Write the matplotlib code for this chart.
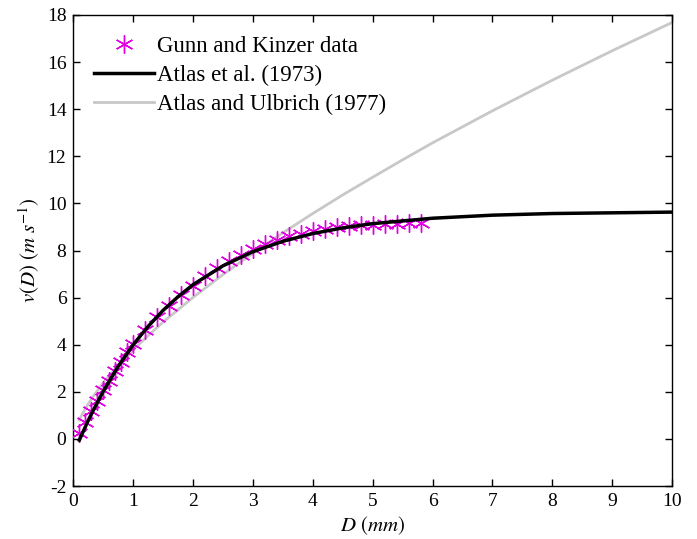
import matplotlib
matplotlib.use("Agg")
import matplotlib.pyplot as plt

# Gunn and Kinzer data
gk_D = [0.1, 0.2, 0.3, 0.4, 0.5, 0.6, 0.7, 0.8, 0.9, 1.0, 1.2, 1.4, 1.6, 1.8, 2.0,
        2.2, 2.4, 2.6, 2.8, 3.0, 3.2, 3.4, 3.6, 3.8, 4.0, 4.2, 4.4, 4.6, 4.8, 5.0,
        5.2, 5.4, 5.6, 5.8]
gk_v = [0.27, 0.72, 1.17, 1.62, 2.06, 2.47, 2.87, 3.27, 3.67, 4.03, 4.64, 5.17, 5.65,
        6.09, 6.49, 6.90, 7.27, 7.57, 7.82, 8.06, 8.26, 8.44, 8.60, 8.72, 8.83, 8.92,
        8.98, 9.03, 9.07, 9.09, 9.12, 9.14, 9.16, 9.17]

# Atlas et al. (1973) curve readings
a73_D = [0.1, 0.2, 0.25, 0.35, 0.5, 0.75, 1.0, 1.25, 1.5, 1.75, 2.0, 2.5, 3.0, 3.5,
         4.0, 4.5, 5.0, 6.0, 7.0, 8.0, 9.0, 10.0]
a73_v = [-0.05, 0.51, 0.79, 1.30, 2.02, 3.08, 4.00, 4.78, 5.46, 6.04, 6.55, 7.35,
         7.95, 8.39, 8.72, 8.96, 9.14, 9.37, 9.50, 9.57, 9.60, 9.63]

# Atlas and Ulbrich (1977) curve readings
au_D = [0.1, 0.15, 0.25, 0.35, 0.5, 0.75, 1.0, 1.25, 1.5, 2.0, 2.5, 3.0, 3.5, 4.0,
        4.5, 5.0, 5.5, 6.0, 7.0, 8.0, 9.0, 10.0]
au_v = [0.81, 1.06, 1.49, 1.87, 2.38, 3.12, 3.78, 4.39, 4.96, 6.01, 6.98, 7.89, 8.75,
        9.57, 10.36, 11.11, 11.85, 12.57, 13.93, 15.23, 16.48, 17.68]

labels = ["Gunn and Kinzer data", "Atlas et al. (1973)", "Atlas and Ulbrich (1977)"]

plt.rcParams['font.family'] = ['Liberation Serif', 'DejaVu Serif']
plt.rcParams['mathtext.fontset'] = 'stix'
plt.rcParams['axes.unicode_minus'] = False

fig = plt.figure(figsize=(6.97, 5.39), dpi=100)
ax = fig.add_axes([0.1052, 0.0983, 0.8589, 0.8739])

ax.plot(gk_D, gk_v, linestyle='none', marker=(6, 2, 0), markersize=13,
        markeredgewidth=1.0, color='#e000e0', label=labels[0], zorder=3)
ax.plot(a73_D, a73_v, color='black', linewidth=2.5, label=labels[1], zorder=4)
ax.plot(au_D, au_v, color='#c8c8c8', linewidth=2.0, label=labels[2], zorder=2)

ax.set_xlim(0, 10)
ax.set_ylim(-2, 18)
ax.set_xticks(range(0, 11))
ax.set_yticks(range(-2, 19, 2))
ax.tick_params(direction='in', top=True, right=True, labelsize=14, length=5, width=1,
               pad=5)
for s in ax.spines.values():
    s.set_linewidth(1)

ax.set_xlabel(r'$D\ (mm)$', fontsize=15, labelpad=3)
ax.set_ylabel(r'$v(D)\ (m\ s^{-1})$', fontsize=15, labelpad=3)

ax.legend(loc='upper left', frameon=False, fontsize=16.5, handlelength=2.6,
          handletextpad=0.15, labelspacing=0.36, borderaxespad=0.5,
          borderpad=0.4)

fig.savefig('out.png', dpi=100)
